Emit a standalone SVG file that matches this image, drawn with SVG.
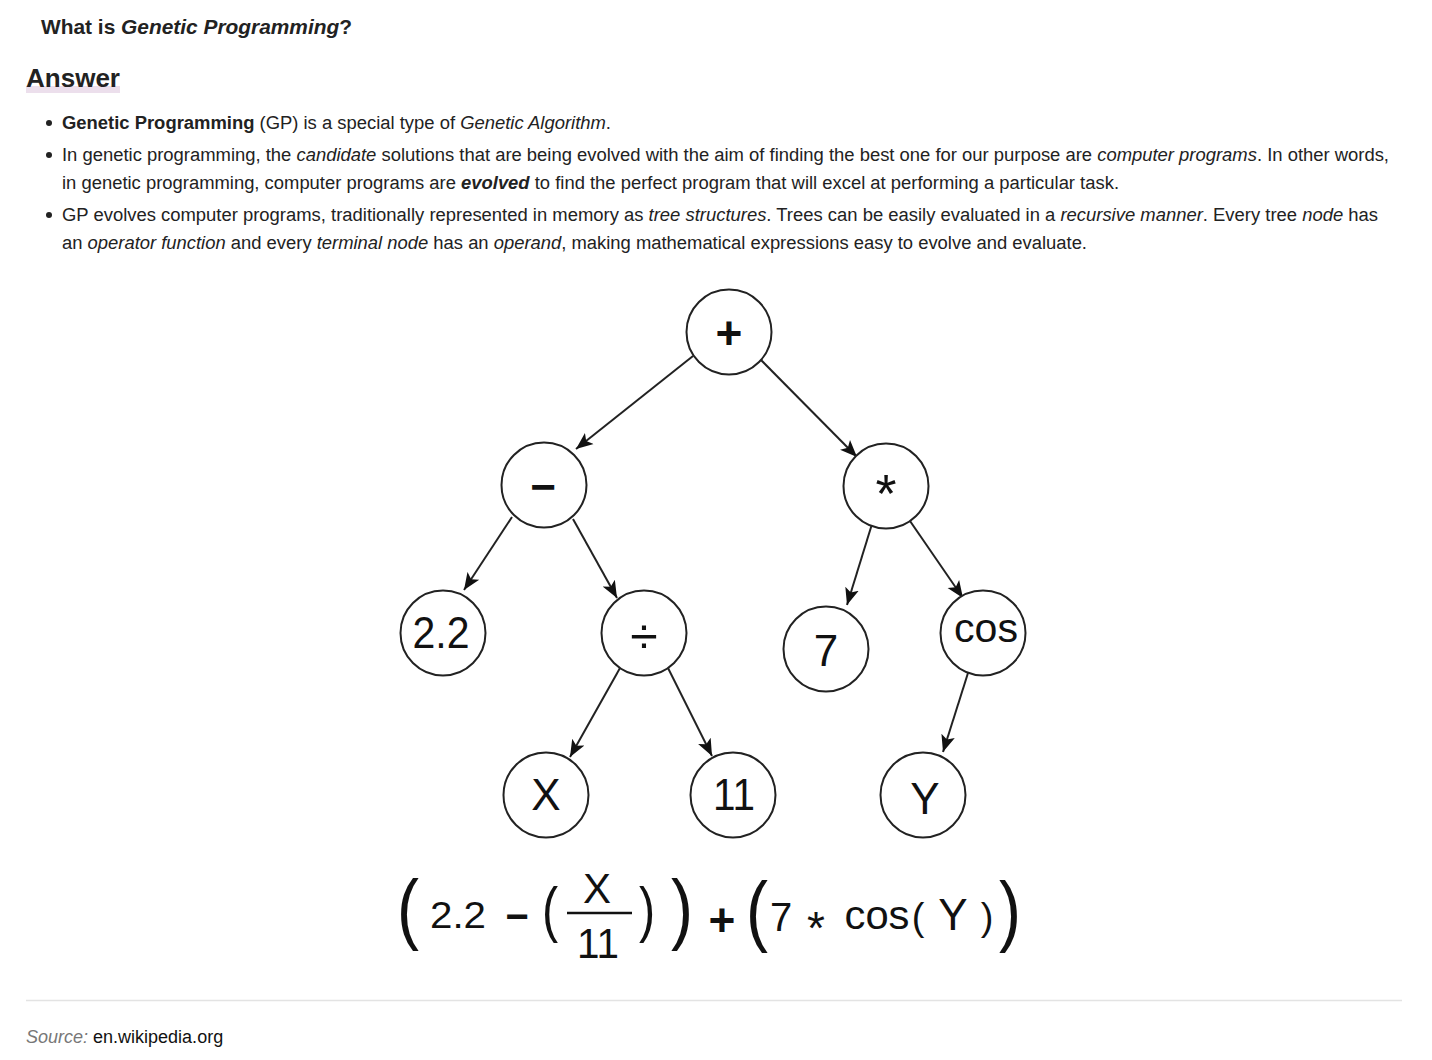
<svg xmlns="http://www.w3.org/2000/svg" width="1432" height="1060" viewBox="0 0 1432 1060">
  <defs>
    <style>
      .t { font-family: "Liberation Sans", Arial, sans-serif; fill: #222; }
      .body { font-size: 18px; }
      .i { font-style: italic; }
      .b { font-weight: bold; }
      .node circle { fill: #fff; stroke: #222; stroke-width: 2; }
      .lbl { font-family: "Liberation Sans", Arial, sans-serif; fill: #111; text-anchor: middle; }
      .edge { stroke: #222; stroke-width: 2; fill: none; marker-end: url(#arr); }
      .fx { font-family: "Liberation Sans", Arial, sans-serif; fill: #111; text-anchor: middle; }
    </style>
    <marker id="arr" markerUnits="userSpaceOnUse" markerWidth="20" markerHeight="16" refX="17" refY="8" orient="auto">
      <path d="M0,1 L17,8 L0,15 L4,8 Z" fill="#111"/>
    </marker>
  </defs>
  <rect width="1432" height="1060" fill="#fff"/>

  <!-- Header -->
  <text class="t b" x="41" y="34" font-size="21" textLength="311" lengthAdjust="spacingAndGlyphs">What is <tspan class="i">Genetic Programming</tspan>?</text>
  <rect x="26" y="86" width="94" height="7" fill="#ecdfec"/>
  <text class="t b" x="26" y="87" font-size="26" textLength="94" lengthAdjust="spacingAndGlyphs">Answer</text>

  <!-- Bullets -->
  <g class="t body">
    <circle cx="49" cy="123" r="3" fill="#222"/>
    <text x="62" y="129" textLength="549" lengthAdjust="spacingAndGlyphs"><tspan class="b">Genetic Programming</tspan> (GP) is a special type of <tspan class="i">Genetic Algorithm</tspan>.</text>
    <circle cx="49" cy="155" r="3" fill="#222"/>
    <text x="62" y="161" textLength="1327" lengthAdjust="spacingAndGlyphs">In genetic programming, the <tspan class="i">candidate</tspan> solutions that are being evolved with the aim of finding the best one for our purpose are <tspan class="i">computer programs</tspan>. In other words,</text>
    <text x="62" y="189" textLength="1057" lengthAdjust="spacingAndGlyphs">in genetic programming, computer programs are <tspan class="b i">evolved</tspan> to find the perfect program that will excel at performing a particular task.</text>
    <circle cx="49" cy="215" r="3" fill="#222"/>
    <text x="62" y="221" textLength="1316" lengthAdjust="spacingAndGlyphs">GP evolves computer programs, traditionally represented in memory as <tspan class="i">tree structures</tspan>. Trees can be easily evaluated in a <tspan class="i">recursive manner</tspan>. Every tree <tspan class="i">node</tspan> has</text>
    <text x="62" y="249" textLength="1025" lengthAdjust="spacingAndGlyphs">an <tspan class="i">operator function</tspan> and every <tspan class="i">terminal node</tspan> has an <tspan class="i">operand</tspan>, making mathematical expressions easy to evolve and evaluate.</text>
  </g>

  <!-- Connectors -->
  <g id="connectors">
    <path class="edge" d="M693,356 L576,449"/>
    <path class="edge" d="M761,360 L857,457"/>
    <path class="edge" d="M512,517 L464,590"/>
    <path class="edge" d="M573,519 L617,598"/>
    <path class="edge" d="M872,524 L847,605"/>
    <path class="edge" d="M910,521 L963,598"/>
    <path class="edge" d="M620,668 L570,757"/>
    <path class="edge" d="M668,668 L712,756"/>
    <path class="edge" d="M968,673 L943,752"/>
  </g>

  <!-- Nodes -->
  <g id="n-plus" class="node"><circle cx="729" cy="332" r="42.5"/><text class="lbl" x="729" y="349" font-size="46" font-weight="bold">+</text></g>
  <g id="n-minus" class="node"><circle cx="544" cy="485" r="42.5"/><text class="lbl" x="543" y="502" font-size="44" font-weight="bold">−</text></g>
  <g id="n-mul" class="node"><circle cx="886" cy="486" r="42.5"/><text class="lbl" x="886" y="512" font-size="54">*</text></g>
  <g id="n-22" class="node"><circle cx="443" cy="633" r="42.5"/><text class="lbl" x="441" y="648" font-size="44" textLength="57" lengthAdjust="spacingAndGlyphs">2.2</text></g>
  <g id="n-div" class="node"><circle cx="644" cy="633" r="42.5"/><text class="lbl" x="644" y="653" font-size="50">÷</text></g>
  <g id="n-7" class="node"><circle cx="826" cy="649" r="42.5"/><text class="lbl" x="826" y="666" font-size="44">7</text></g>
  <g id="n-cos" class="node"><circle cx="983" cy="633" r="42.5"/><text class="lbl" x="986" y="642" font-size="40" textLength="64" lengthAdjust="spacingAndGlyphs">cos</text></g>
  <g id="n-x" class="node"><circle cx="546" cy="795" r="42.5"/><text class="lbl" x="546" y="810" font-size="44">X</text></g>
  <g id="n-11" class="node"><circle cx="733" cy="795" r="42.5"/><text class="lbl" x="734" y="810" font-size="44" textLength="42" lengthAdjust="spacingAndGlyphs">11</text></g>
  <g id="n-y" class="node"><circle cx="923" cy="795" r="42.5"/><text class="lbl" x="925" y="814" font-size="44">Y</text></g>

  <!-- Formula -->
  <g id="formula">
    <text class="fx" font-size="55" transform="translate(408,935) scale(1.2,1.43)">(</text>
    <text class="fx" x="458" y="928" font-size="36" textLength="56" lengthAdjust="spacingAndGlyphs">2.2</text>
    <text class="fx" x="517" y="930" font-size="40" font-weight="bold">−</text>
    <text class="fx" font-size="44" transform="translate(550,930) scale(1.1,1.4)">(</text>
    <text class="fx" x="597" y="903" font-size="42">X</text>
    <line x1="567" y1="913" x2="632" y2="913" stroke="#111" stroke-width="2.5"/>
    <text class="fx" x="598" y="958" font-size="43" textLength="42" lengthAdjust="spacingAndGlyphs">11</text>
    <text class="fx" font-size="44" transform="translate(647,930) scale(1.1,1.4)">)</text>
    <text class="fx" font-size="55" transform="translate(682,935) scale(1.2,1.43)">)</text>
    <text class="fx" x="722" y="936" font-size="46" font-weight="bold">+</text>
    <text class="fx" font-size="55" transform="translate(757,937) scale(1.2,1.43)">(</text>
    <text class="fx" x="781" y="931" font-size="40">7</text>
    <text class="fx" x="816" y="944" font-size="46" fill="#333">*</text>
    <text class="fx" x="877" y="929" font-size="40" textLength="65" lengthAdjust="spacingAndGlyphs">cos</text>
    <text class="fx" x="918" y="930" font-size="38">(</text>
    <text class="fx" x="953" y="930" font-size="44">Y</text>
    <text class="fx" x="987" y="930" font-size="38">)</text>
    <text class="fx" font-size="55" transform="translate(1010,937) scale(1.2,1.43)">)</text>
  </g>

  <!-- Footer -->
  <line x1="26" y1="1000.5" x2="1402" y2="1000.5" stroke="#e3e3e3" stroke-width="1.5"/>
  <text class="t body" x="26" y="1043"><tspan class="i" fill="#777">Source:</tspan> <tspan fill="#111">en.wikipedia.org</tspan></text>
</svg>
